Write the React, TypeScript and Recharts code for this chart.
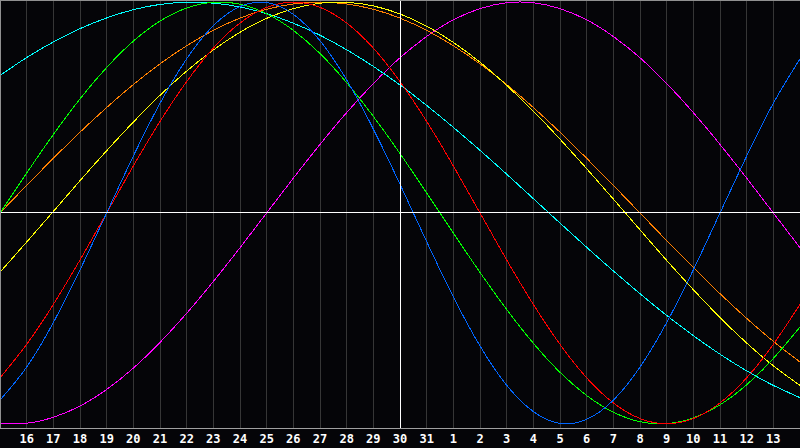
import { LineChart, Line, XAxis, YAxis, CartesianGrid, ReferenceLine } from 'recharts';

// day labels, one per grid column (15 .. 31, 1 .. 14), "30" is today
const days = [
  '15', '16', '17', '18', '19', '20', '21', '22', '23', '24', '25', '26', '27', '28', '29', '30', '31',
  '1', '2', '3', '4', '5', '6', '7', '8', '9', '10', '11', '12', '13', '14',
];

// curve values, -1 .. 1
const physical = [
  -0.888, -0.731, -0.52, -0.27, 0, 0.27, 0.52, 0.731, 0.888, 0.979, 0.998, 0.942, 0.817, 0.631, 0.398, 0.136,
  -0.136, -0.398, -0.631, -0.817, -0.942, -0.998, -0.979, -0.888, -0.731, -0.52, -0.27, 0, 0.27, 0.52, 0.731,
];
const emotional = [
  -0.782, -0.623, -0.434, -0.223, 0, 0.223, 0.434, 0.623, 0.782, 0.901, 0.975, 1, 0.975, 0.901, 0.782, 0.623,
  0.434, 0.223, 0, -0.223, -0.434, -0.623, -0.782, -0.901, -0.975, -1, -0.975, -0.901, -0.782, -0.623, -0.434,
];
const intellectual = [
  0, 0.189, 0.372, 0.541, 0.69, 0.815, 0.91, 0.972, 0.999, 0.99, 0.945, 0.866, 0.756, 0.618, 0.458, 0.282,
  0.095, -0.095, -0.282, -0.458, -0.618, -0.756, -0.866, -0.945, -0.99, -0.999, -0.972, -0.91, -0.815, -0.69, -0.541,
];
const intuitive = [
  -0.997, -0.997, -0.969, -0.916, -0.837, -0.736, -0.614, -0.476, -0.325, -0.165, 0, 0.165, 0.325, 0.476, 0.614, 0.736,
  0.837, 0.916, 0.969, 0.997, 0.997, 0.969, 0.916, 0.837, 0.736, 0.614, 0.476, 0.325, 0.165, 0, -0.165,
];
const aesthetic = [
  -0.281, -0.138, 0.007, 0.153, 0.295, 0.431, 0.558, 0.673, 0.773, 0.857, 0.923, 0.969, 0.995, 0.999, 0.982, 0.944,
  0.886, 0.809, 0.715, 0.605, 0.483, 0.35, 0.21, 0.066, -0.08, -0.225, -0.364, -0.496, -0.617, -0.725, -0.818,
];
const awareness = [
  0, 0.131, 0.259, 0.383, 0.5, 0.609, 0.707, 0.793, 0.866, 0.924, 0.966, 0.991, 1, 0.991, 0.966, 0.924,
  0.866, 0.793, 0.707, 0.609, 0.5, 0.383, 0.259, 0.131, 0, -0.131, -0.259, -0.383, -0.5, -0.609, -0.707,
];
const spiritual = [
  0.652, 0.737, 0.811, 0.874, 0.925, 0.964, 0.989, 0.999, 0.995, 0.977, 0.945, 0.9, 0.843, 0.774, 0.695, 0.607,
  0.51, 0.406, 0.297, 0.184, 0.068, -0.048, -0.163, -0.275, -0.383, -0.486, -0.582, -0.67, -0.749, -0.818, -0.876,
];

const data = days.map((day, i) => ({
  day,
  physical: physical[i],
  emotional: emotional[i],
  intellectual: intellectual[i],
  intuitive: intuitive[i],
  aesthetic: aesthetic[i],
  awareness: awareness[i],
  spiritual: spiritual[i],
}));

function DayTick(props: any) {
  const { x, index, payload } = props;
  if (index === 0 || index === days.length - 1) return null;
  return (
    <text
      x={x}
      y={443}
      textAnchor="middle"
      fill="#ffffff"
      fontFamily="'DejaVu Sans Mono', monospace"
      fontWeight="bold"
      fontSize={12}
    >
      {payload.value}
    </text>
  );
}

const lineProps = {
  type: 'natural' as const,
  strokeWidth: 1,
  dot: false,
  activeDot: false,
  isAnimationActive: false,
  shapeRendering: 'crispEdges',
};

export default function App() {
  return (
    <div style={{ position: 'fixed', left: 0, top: 0, width: 800, height: 448, background: '#050508' }}>
      <LineChart width={800} height={448} data={data} margin={{ top: 0, right: 0, left: 0, bottom: 0 }}>
        <CartesianGrid vertical horizontal={false} stroke="#363636" shapeRendering="crispEdges" />
        <XAxis
          dataKey="day"
          interval={0}
          height={20}
          tickLine={false}
          axisLine={{ stroke: '#a0a0a0', shapeRendering: 'crispEdges' }}
          tick={<DayTick />}
        />
        <YAxis hide domain={[-1.02, 1.01]} />
        <Line {...lineProps} dataKey="intuitive" stroke="#ff00ff" />
        <Line {...lineProps} dataKey="spiritual" stroke="#00ffff" />
        <Line {...lineProps} dataKey="awareness" stroke="#ff8000" />
        <Line {...lineProps} dataKey="aesthetic" stroke="#ffff00" />
        <Line {...lineProps} dataKey="intellectual" stroke="#00ff00" />
        <Line {...lineProps} dataKey="emotional" stroke="#ff0000" />
        <Line {...lineProps} dataKey="physical" stroke="#0066ff" />
        <ReferenceLine y={0} stroke="#ffffff" strokeWidth={1} shapeRendering="crispEdges" />
        <ReferenceLine x="30" stroke="#ffffff" strokeWidth={1} shapeRendering="crispEdges" />
      </LineChart>
      <div
        style={{
          position: 'absolute',
          left: 0,
          top: 0,
          width: 800,
          height: 428,
          borderTop: '1px solid #909090',
          borderLeft: '1px solid #909090',
          boxSizing: 'border-box',
          pointerEvents: 'none',
        }}
      />
    </div>
  );
}
